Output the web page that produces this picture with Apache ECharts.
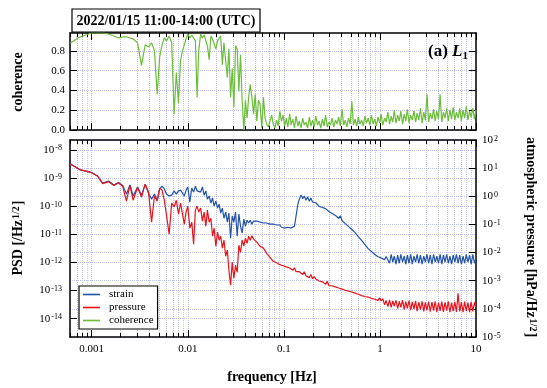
<!DOCTYPE html>
<html><head><meta charset="utf-8">
<script src="https://cdn.jsdelivr.net/npm/echarts@6/dist/echarts.min.js"></script>
<style>html,body{margin:0;padding:0;background:#fff}#c{width:547px;height:388px}</style>
</head><body><div id="c"></div>
<script>
// ---- data ----
const freqHz = [0.0006,0.00075,0.001,0.00115,0.0013,0.0015,0.0017,0.0019,0.0021,0.0023,
0.0025,0.0027,0.003,0.0033,0.0036,0.0039,0.0042,0.0045,0.0048,0.0051,
0.0054,0.0057,0.006,0.0064,0.0068,0.0072,0.0076,0.008,0.0084,0.0088,
0.0092,0.0096,0.01,0.0105,0.011,0.0115,0.012,0.0125,0.013,0.0136,
0.0142,0.0148,0.0154,0.016,0.0167,0.0174,0.0181,0.0188,0.0196,0.0204,
0.0212,0.022,0.0229,0.0238,0.0248,0.0258,0.0268,0.0279,0.029,0.0302,
0.0314,0.0327,0.034,0.0354,0.0368,0.0383,0.0398,0.0414,0.043,0.0447,
0.0465,0.0484,0.0503,0.0523,0.0544,0.0566,0.0589,0.0613,0.0637,0.0663,
0.069,0.0717,0.0746,0.0776,0.0807,0.0839,0.0873,0.0908,0.0944,0.0982,
0.102,0.106,0.11,0.115,0.119,0.124,0.129,0.134,0.14,0.145,
0.151,0.157,0.163,0.17,0.177,0.184,0.191,0.199,0.207,0.215,
0.224,0.233,0.242,0.252,0.262,0.272,0.283,0.294,0.306,0.318,
0.331,0.344,0.358,0.372,0.387,0.403,0.419,0.436,0.453,0.471,
0.49,0.51,0.53,0.551,0.573,0.596,0.62,0.645,0.671,0.698,
0.726,0.755,0.785,0.816,0.849,0.883,0.918,0.955,0.993,1.03,
1.07,1.12,1.16,1.21,1.26,1.31,1.36,1.41,1.47,1.53,
1.59,1.65,1.72,1.79,1.86,1.93,2.01,2.09,2.17,2.26,
2.35,2.44,2.54,2.64,2.75,2.86,2.97,3.09,3.21,3.34,
3.48,3.62,3.76,3.91,4.07,4.23,4.4,4.58,4.76,4.95,
5.15,5.35,5.57,5.79,6.02,6.26,6.51,6.77,7.04,7.33,
7.62,7.92,8.24,8.57,8.91,9.27,9.64,10];

const coherence = [0.88,0.94,0.98,0.98,0.98,0.97,0.95,0.93,0.94,0.94,
0.93,0.92,0.88,0.65,0.86,0.84,0.88,0.80,0.36,0.74,
0.86,0.93,0.90,0.95,0.88,0.16,0.58,0.27,0.70,0.80,
0.86,0.92,0.97,0.93,0.96,0.97,0.90,0.33,0.80,0.97,
0.93,0.96,0.97,0.85,0.71,0.95,0.92,0.93,0.82,0.90,
0.88,0.95,0.66,0.88,0.86,0.53,0.82,0.33,0.62,0.23,
0.85,0.82,0.39,0.76,0.30,0.00,0.30,0.12,0.33,0.46,
0.33,0.16,0.36,0.09,0.30,0.26,0.02,0.33,0.12,0.06,
0.03,0.09,0.15,0.06,0.02,0.10,0.04,0.19,0.09,0.15,
0.04,0.12,0.03,0.16,0.05,0.11,0.02,0.14,0.04,0.09,
0.02,0.12,0.05,0.08,0.02,0.13,0.04,0.10,0.03,0.14,
0.05,0.09,0.02,0.11,0.04,0.15,0.03,0.08,0.05,0.12,
0.03,0.10,0.06,0.13,0.04,0.21,0.05,0.10,0.03,0.12,
0.06,0.29,0.05,0.11,0.04,0.13,0.06,0.10,0.04,0.14,
0.07,0.12,0.05,0.15,0.06,0.11,0.04,0.13,0.07,0.16,
0.05,0.12,0.08,0.18,0.06,0.14,0.08,0.20,0.07,0.15,
0.09,0.19,0.06,0.16,0.09,0.21,0.07,0.15,0.10,0.19,
0.08,0.17,0.10,0.22,0.07,0.18,0.10,0.36,0.08,0.17,
0.11,0.21,0.09,0.19,0.11,0.36,0.08,0.18,0.12,0.22,
0.09,0.20,0.11,0.23,0.10,0.18,0.12,0.22,0.09,0.20,
0.12,0.24,0.10,0.19,0.13,0.22,0.11,0.20];

// strain PSD = 10^strainExp  [/Hz^1/2]
const strainExp = [-8.50,-8.70,-8.81,-8.93,-9.18,-9.11,-9.25,-9.16,-9.27,-9.57,
-9.25,-9.64,-9.32,-9.61,-9.22,-9.54,-9.75,-9.57,-9.79,-9.39,
-9.29,-9.39,-9.57,-9.64,-9.61,-9.46,-9.57,-9.46,-9.43,-9.50,
-9.64,-9.43,-9.32,-9.86,-9.36,-9.50,-9.29,-9.46,-9.39,-9.50,
-9.32,-9.61,-9.46,-9.75,-9.64,-9.89,-9.71,-10.00,-9.82,-10.07,
-9.93,-10.25,-10.07,-10.43,-10.21,-10.57,-10.25,-11.14,-10.35,-10.57,
-10.21,-11.07,-10.28,-10.71,-10.96,-10.46,-10.71,-10.50,-10.60,-10.50,
-10.64,-10.53,-10.60,-10.53,-10.60,-10.57,-10.64,-10.60,-10.64,-10.60,
-10.67,-10.64,-10.67,-10.64,-10.71,-10.67,-10.71,-10.67,-10.75,-10.71,
-10.78,-10.75,-10.75,-10.82,-10.78,-10.78,-10.71,-10.35,-9.93,-9.75,
-9.60,-9.74,-9.64,-9.79,-9.67,-9.83,-9.71,-9.86,-9.80,-9.88,
-9.84,-10.01,-9.95,-10.05,-10.02,-10.09,-10.06,-10.19,-10.13,-10.26,
-10.20,-10.33,-10.27,-10.44,-10.34,-10.51,-10.45,-10.62,-10.55,-10.72,
-10.66,-10.83,-10.77,-10.94,-10.91,-11.08,-11.02,-11.22,-11.19,-11.37,
-11.30,-11.51,-11.44,-11.61,-11.59,-11.72,-11.69,-11.80,-11.76,-11.84,
-11.80,-11.90,-11.79,-11.74,-12.03,-11.71,-11.99,-11.78,-12.06,-11.74,
-12.03,-11.71,-11.99,-11.78,-12.06,-11.74,-12.03,-11.71,-12.06,-11.78,
-11.99,-11.71,-12.03,-11.74,-12.06,-11.78,-11.99,-11.71,-12.03,-11.74,
-12.06,-11.71,-11.99,-11.78,-12.03,-11.71,-12.06,-11.74,-11.99,-11.71,
-12.03,-11.78,-12.06,-11.74,-11.99,-11.71,-12.03,-11.74,-12.06,-11.78,
-12.03,-11.71,-11.99,-11.74,-12.06,-11.71,-12.03,-11.85];

// atmospheric pressure PSD = 10^pressureExp  [hPa/Hz^1/2]
const pressureExp = [1.15,0.95,0.84,0.72,0.45,0.52,0.38,0.47,0.36,-0.17,
0.40,-0.14,0.31,-0.03,0.43,0.15,-0.92,0.01,-0.17,0.29,
0.22,-0.14,-0.67,-1.35,-0.24,-0.38,-0.14,-0.63,-0.24,-0.21,
-0.99,-0.56,-0.35,-1.13,-0.92,-1.70,-0.49,-0.35,-0.56,-0.42,
-0.88,-0.56,-1.06,-0.49,-0.92,-0.78,-1.42,-1.13,-1.77,-1.27,
-1.56,-1.42,-1.84,-1.56,-2.13,-1.91,-2.63,-3.16,-2.34,-2.91,
-2.45,-2.70,-1.74,-1.99,-1.56,-1.77,-1.49,-1.67,-1.42,-1.56,
-1.40,-1.52,-1.53,-1.63,-1.64,-1.78,-1.76,-1.84,-1.88,-2.03,
-2.02,-2.17,-2.15,-2.31,-2.29,-2.36,-2.37,-2.43,-2.40,-2.47,
-2.43,-2.51,-2.47,-2.55,-2.50,-2.63,-2.54,-2.68,-2.61,-2.68,
-2.65,-2.78,-2.68,-2.82,-2.75,-2.89,-2.78,-2.93,-2.85,-2.94,
-2.93,-3.01,-2.97,-3.04,-3.00,-3.13,-3.02,-3.17,-3.10,-3.18,
-3.14,-3.22,-3.18,-3.26,-3.21,-3.30,-3.25,-3.34,-3.28,-3.37,
-3.31,-3.40,-3.36,-3.44,-3.39,-3.48,-3.42,-3.53,-3.46,-3.56,
-3.50,-3.58,-3.53,-3.63,-3.56,-3.66,-3.59,-3.70,-3.61,-3.72,
-3.64,-3.86,-3.70,-3.92,-3.68,-3.95,-3.72,-3.90,-3.70,-3.98,
-3.73,-3.95,-3.69,-4.02,-3.74,-3.98,-3.71,-4.05,-3.75,-4.01,
-3.72,-4.08,-3.76,-4.03,-3.73,-4.09,-3.77,-4.05,-3.74,-4.10,
-3.76,-4.06,-3.73,-4.12,-3.78,-4.07,-3.74,-4.11,-3.77,-4.06,
-3.73,-4.12,-3.78,-4.08,-3.75,-4.11,-3.45,-4.09,-3.76,-4.12,
-3.74,-4.08,-3.78,-4.12,-3.75,-4.09,-3.77,-3.95];

const xTickLabels = ['0.001','0.01','0.1','1','10'];
const xTickExp = [-3,-2,-1,0,1];
const cohTicks = [0,0.2,0.4,0.6,0.8];
const strainTickExp = [-14,-13,-12,-11,-10,-9,-8];
const pressureTickExp = [-5,-4,-3,-2,-1,0,1,2];

// ---- chart ----
const FONT = '"Liberation Serif","Times New Roman",serif';
const GRIDC = '#c0c4ee';
const X_MIN = -3.226, X_MAX = 1;
const minorExp = [];
for (let n = -4; n <= 0; n++) for (let k = 2; k <= 9; k++) {
  const v = Math.log10(k) + n;
  if (v > X_MIN && v < X_MAX) minorExp.push(v);
}

function xAx(gridIndex, position, values, len, split, line, labels) {
  return {
    type: 'value', gridIndex, position, min: X_MIN, max: X_MAX,
    axisLine: { show: line, onZero: false, lineStyle: { color: '#000', width: 1.5 } },
    axisTick: { show: true, inside: true, length: len, customValues: values, lineStyle: { color: '#000', width: 1 } },
    axisLabel: labels ? {
      show: true, customValues: xTickExp, margin: 7,
      formatter: v => xTickLabels[xTickExp.indexOf(Math.round(v))],
      fontFamily: FONT, fontSize: 11, color: '#000'
    } : { show: false },
    splitLine: { show: split, lineStyle: { color: GRIDC, type: 'dotted', width: 1 } },
    minorTick: { show: false }, minorSplitLine: { show: false }
  };
}
const logRich = {
  b: { fontFamily: FONT, fontSize: 11, color: '#000', lineHeight: 11, verticalAlign: 'bottom' },
  s: { fontFamily: FONT, fontSize: 8, color: '#000', lineHeight: 9, verticalAlign: 'top', padding: [0, 0, 7, 1] }
};
const logFmt = v => '{b|10}{s|' + Math.round(v) + '}';

function yAx(gridIndex, position, min, max, ticks, labels, split, margin) {
  return {
    type: 'value', gridIndex, position, min, max,
    axisLine: { show: true, onZero: false, lineStyle: { color: '#000', width: 1.5 } },
    axisTick: { show: true, inside: true, length: 7, customValues: ticks, lineStyle: { color: '#000', width: 1 } },
    axisLabel: labels ? Object.assign({ show: true, customValues: ticks, margin }, labels) : { show: false },
    splitLine: { show: split, lineStyle: { color: GRIDC, type: 'dotted', width: 1 } },
    minorTick: { show: false }
  };
}

const BLUE = '#2353a7', RED = '#e8141c', GREEN = '#6cbd3b';

const chart = echarts.init(document.getElementById('c'), null, { renderer: 'canvas' });
chart.setOption({
  animation: false,
  backgroundColor: '#fff',
  grid: [
    { left: 70, top: 33, width: 406, height: 97 },
    { left: 70, top: 140, width: 406, height: 197 }
  ],
  xAxis: [
    xAx(0, 'bottom', xTickExp, 7, true, true, false),
    xAx(0, 'bottom', minorExp, 4, true, false, false),
    xAx(0, 'top', xTickExp, 7, false, true, false),
    xAx(0, 'top', minorExp, 4, false, false, false),
    xAx(1, 'bottom', xTickExp, 7, true, true, true),
    xAx(1, 'bottom', minorExp, 4, true, false, false),
    xAx(1, 'top', xTickExp, 7, false, true, false),
    xAx(1, 'top', minorExp, 4, false, false, false)
  ],
  yAxis: [
    yAx(0, 'left', 0, 0.98, cohTicks, { formatter: v => v.toFixed(1), fontFamily: FONT, fontSize: 11, color: '#000' }, true, 5),
    yAx(0, 'right', 0, 0.98, cohTicks, null, false, 0),
    yAx(1, 'left', -14.65, -7.65, strainTickExp, { formatter: logFmt, rich: logRich }, true, 8),
    yAx(1, 'right', -5, 2, pressureTickExp, { formatter: logFmt, rich: logRich }, true, 6)
  ],
  legend: {
    data: ['strain', 'pressure', 'coherence'],
    orient: 'vertical', left: 79, top: 286,
    icon: 'rect', itemWidth: 17, itemHeight: 1.6, itemGap: 0,
    padding: [2, 4, 2, 4],
    backgroundColor: '#fff', borderColor: '#000', borderWidth: 1.2, borderRadius: 0,
    textStyle: { fontFamily: FONT, fontSize: 11, color: '#000', lineHeight: 13, padding: [0, 0, 0, 4] }
  },
  series: [
    { name: 'strain', type: 'line', xAxisIndex: 4, yAxisIndex: 2, showSymbol: false, symbol: 'none',
      color: BLUE, lineStyle: { color: BLUE, width: 1.2 }, itemStyle: { color: BLUE },
      data: freqHz.map((f, i) => [Math.log10(f), strainExp[i]]) },
    { name: 'pressure', type: 'line', xAxisIndex: 4, yAxisIndex: 3, showSymbol: false, symbol: 'none',
      color: RED, lineStyle: { color: RED, width: 1.2 }, itemStyle: { color: RED },
      data: freqHz.map((f, i) => [Math.log10(f), pressureExp[i]]) },
    { name: 'coherence', type: 'line', xAxisIndex: 0, yAxisIndex: 0, showSymbol: false, symbol: 'none',
      color: GREEN, lineStyle: { color: GREEN, width: 1.2 }, itemStyle: { color: GREEN },
      data: freqHz.map((f, i) => [Math.log10(f), coherence[i]]) }
  ],
  graphic: [
    { type: 'rect', shape: { x: 72, y: 9, width: 188, height: 23 }, style: { fill: '#fff', stroke: '#000', lineWidth: 1.2 } },
    { type: 'text', x: 166, y: 21, style: { text: '2022/01/15 11:00-14:00 (UTC)', font: 'bold 14px ' + FONT, fill: '#000', align: 'center', verticalAlign: 'middle' } },
    { type: 'text', x: 468, y: 52, z: 10, style: {
        text: '{a|(a) }{l|L}{s|1}', align: 'right', verticalAlign: 'middle',
        rich: {
          a: { font: 'bold 17px ' + FONT, fill: '#000', lineHeight: 20, verticalAlign: 'middle' },
          l: { font: 'italic bold 17px ' + FONT, fill: '#000', lineHeight: 20, verticalAlign: 'middle' },
          s: { font: 'bold 11px ' + FONT, fill: '#000', lineHeight: 11, verticalAlign: 'bottom' }
        } } },
    { type: 'text', x: 18, y: 82, rotation: Math.PI / 2, style: { text: 'coherence', font: 'bold 14px ' + FONT, fill: '#000', align: 'center', verticalAlign: 'middle' } },
    { type: 'text', x: 18, y: 238, rotation: Math.PI / 2, style: {
        text: '{b|PSD [/Hz}{s|1/2}{b|]}', align: 'center', verticalAlign: 'middle',
        rich: {
          b: { font: 'bold 14px ' + FONT, fill: '#000', lineHeight: 14, verticalAlign: 'bottom' },
          s: { font: 'bold 10px ' + FONT, fill: '#000', lineHeight: 10, verticalAlign: 'top', padding: [0, 1, 8, 1] }
        } } },
    { type: 'text', x: 531, y: 237, rotation: -Math.PI / 2, style: {
        text: '{b|atmospheric pressure [hPa/Hz}{s|1/2}{b|]}', align: 'center', verticalAlign: 'middle',
        rich: {
          b: { font: 'bold 14px ' + FONT, fill: '#000', lineHeight: 14, verticalAlign: 'bottom' },
          s: { font: 'bold 10px ' + FONT, fill: '#000', lineHeight: 10, verticalAlign: 'top', padding: [0, 1, 8, 1] }
        } } },
    { type: 'text', x: 272, y: 377, style: { text: 'frequency [Hz]', font: 'bold 14px ' + FONT, fill: '#000', align: 'center', verticalAlign: 'middle' } }
  ]
});
</script></body></html>
